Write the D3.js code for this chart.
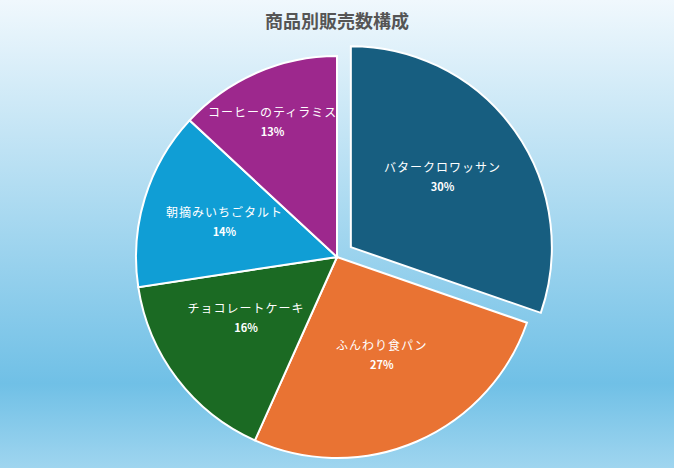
<!DOCTYPE html>
<html>
<head>
<meta charset="utf-8">
<script src="https://cdn.jsdelivr.net/npm/d3@7"></script>
<style>
  html, body { margin: 0; padding: 0; }
  body { width: 674px; height: 468px; overflow: hidden; }
</style>
</head>
<body>
<div id="chart"></div>
<script>
// data
var products = ['バタークロワッサン', 'ふんわり食パン', 'チョコレートケーキ', '朝摘みいちごタルト', 'コーヒーのティラミス'];
var sales    = [303, 264, 159, 143, 131];
var colors   = ['#175e80', '#e97333', '#1b6a23', '#109ed5', '#9d288d'];
var exploded = ['バタークロワッサン'];

var chart_width  = 674;
var chart_height = 468;
var cx = 337, cy = 257, radius = 201;
var explodeBy = 17;
var font = '"Noto Sans CJK JP", "Noto Sans", sans-serif';

var svg = d3.select('#chart')
    .append('svg')
    .attr('width', chart_width)
    .attr('height', chart_height);

// background gradient
var grad = svg.append('defs').append('linearGradient')
    .attr('id', 'bg').attr('x1', 0).attr('y1', 0).attr('x2', 0).attr('y2', 1);
grad.append('stop').attr('offset', '0%').attr('stop-color', '#f0f8fd');
grad.append('stop').attr('offset', '82%').attr('stop-color', '#70c0e6');
grad.append('stop').attr('offset', '100%').attr('stop-color', '#9fd5ef');
svg.append('rect').attr('width', chart_width).attr('height', chart_height).attr('fill', 'url(#bg)');

svg.append('text')
    .attr('x', chart_width / 2)
    .attr('y', 28)
    .attr('text-anchor', 'middle')
    .attr('font-family', font)
    .attr('font-size', 18)
    .attr('font-weight', 'bold')
    .attr('fill', '#555')
    .text('商品別販売数構成');

// percentages rounded so they add up to 100 (largest remainder)
var total = d3.sum(sales);
var raw = sales.map(function(v){ return v / total * 100; });
var pct = raw.map(Math.floor);
var left = 100 - d3.sum(pct);
d3.range(raw.length)
    .sort(function(a, b){ return (raw[b] - pct[b]) - (raw[a] - pct[a]); })
    .slice(0, left)
    .forEach(function(i){ pct[i] += 1; });

var pie = d3.pie().sort(null).value(function(d){ return d.value; });
var arc = d3.arc().innerRadius(0).outerRadius(radius);

var rows = products.map(function(p, i){
    return { name: p, value: sales[i], color: colors[i], pct: pct[i] };
});

var slices = svg.append('g')
    .attr('transform', 'translate(' + cx + ',' + cy + ')')
    .selectAll('g')
    .data(pie(rows))
    .enter()
    .append('g')
    .attr('transform', function(d){
        if (exploded.indexOf(d.data.name) < 0) return null;
        var mid = (d.startAngle + d.endAngle) / 2;
        return 'translate(' + (Math.sin(mid) * explodeBy) + ',' + (-Math.cos(mid) * explodeBy) + ')';
    });

slices.append('path')
    .attr('d', arc)
    .attr('fill', function(d){ return d.data.color; })
    .attr('stroke', '#fff')
    .attr('stroke-width', 2);

var labels = slices.append('text')
    .attr('text-anchor', 'middle')
    .attr('font-family', font)
    .attr('fill', '#fff');

labels.append('tspan')
    .attr('x', 0).attr('dy', -10)
    .attr('font-size', 12)
    .attr('letter-spacing', 1)
    .text(function(d){ return d.data.name; });

labels.append('tspan')
    .attr('x', 0).attr('dy', 19)
    .attr('font-size', 11)
    .attr('font-weight', 'bold')
    .text(function(d){ return d.data.pct + '%'; });

// how far a point sticks out of the slice
function overflow(d, x, y){
    var out = Math.max(0, Math.sqrt(x * x + y * y) - radius);
    var s1 = x * Math.cos(d.startAngle) + y * Math.sin(d.startAngle);
    var s2 = -(x * Math.cos(d.endAngle) + y * Math.sin(d.endAngle));
    return out + Math.max(0, -s1) + Math.max(0, -s2);
}

// place each label near its centroid, nudged until the box fits inside the slice
labels.each(function(d){
    var bb = this.getBBox();
    var padY = 4;
    var mid = (d.startAngle + d.endAngle) / 2;
    var base = radius * 0.56;
    var bx = Math.sin(mid) * base, by = -Math.cos(mid) * base;
    var best = [bx, by], bestPen = Infinity, bestDist = Infinity;
    for (var f = 0.2; f <= 0.95; f += 0.01) {
        for (var t = 0; t <= 1; t += 0.02) {
            var a = d.startAngle + (d.endAngle - d.startAngle) * t;
            var px = Math.sin(a) * radius * f, py = -Math.cos(a) * radius * f;
            var x0 = px + bb.x, x1 = px + bb.x + bb.width;
            var y0 = py + bb.y + padY, y1 = py + bb.y + bb.height - padY;
            var pen = overflow(d, x0, y0) + overflow(d, x1, y0) + overflow(d, x0, y1) + overflow(d, x1, y1);
            pen = Math.max(0, pen - 1);
            var dist = (px - bx) * (px - bx) + (py - by) * (py - by);
            if (pen < bestPen - 1e-6 || (Math.abs(pen - bestPen) < 1e-6 && dist < bestDist)) {
                bestPen = pen; bestDist = dist; best = [px, py];
            }
        }
    }
    d3.select(this).attr('transform', 'translate(' + best[0] + ',' + best[1] + ')');
});
</script>
</body>
</html>
